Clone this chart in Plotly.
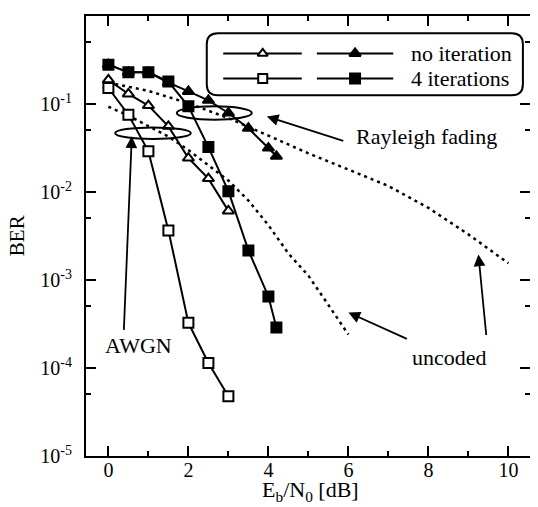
import plotly.graph_objects as go
import math

# ---- data ----
x_awgn = [0, 0.5, 1, 1.5, 2, 2.5, 3]
awgn_noiter = [0.188, 0.13, 0.096, 0.0557, 0.0243, 0.0142, 0.0061]
awgn_4iter = [0.152, 0.0756, 0.029, 0.00366, 3.26e-4, 1.14e-4, 4.78e-5]

x_ray = [0, 0.5, 1, 1.5, 2, 2.5, 3, 3.5, 4, 4.2]
ray_noiter = [0.28, 0.229, 0.229, 0.175, 0.139, 0.11, 0.079, 0.053, 0.0316, 0.0254]
ray_4iter = [0.28, 0.229, 0.229, 0.18, 0.094, 0.0324, 0.0102, 0.00217, 6.5e-4, 2.89e-4]

x_unc_awgn = [0, 0.5, 1, 1.5, 2, 2.5, 3, 3.5, 4, 4.5, 5, 5.5, 6]
unc_awgn = [0.093, 0.074, 0.056, 0.0427, 0.030, 0.020, 0.0135, 0.0080, 0.0042, 0.0020,
            0.00112, 5.2e-4, 2.4e-4]

x_unc_ray = [0, 1, 2, 3, 4, 5, 6, 7, 8, 9, 10]
unc_ray = [0.175, 0.141, 0.102, 0.069, 0.0437, 0.0275, 0.018, 0.0117, 0.0066, 0.0033, 0.00155]

y_tickvals = [1, 0.1, 0.01, 0.001, 1e-4, 1e-5]
y_ticktext = ["10<sup>0</sup>", "10<sup>-1</sup>", "10<sup>-2</sup>", "10<sup>-3</sup>",
              "10<sup>-4</sup>", "10<sup>-5</sup>"]
y_minor = [0.5, 0.05, 0.005, 5e-4, 5e-5]
x_tickvals = [0, 2, 4, 6, 8, 10]
x_minor = [1, 3, 5, 7, 9]

legend_labels = ["no iteration", "4 iterations"]

FONT = "Liberation Serif, Times New Roman, serif"
BLACK = "black"
TXT = 22
TICK = 20

fig = go.Figure()

def curve(x, y, symbol, hollow=False, dash="solid", width=2):
    mode = "lines" if symbol is None else "lines+markers"
    tr = go.Scatter(x=x, y=y, mode=mode, showlegend=False,
                    line=dict(color=BLACK, width=width, dash=dash),
                    hoverinfo="skip")
    if symbol is not None:
        tr.marker = dict(symbol=symbol, size=10, color="white" if hollow else BLACK,
                         line=dict(color=BLACK, width=2))
    return tr

fig.add_trace(curve(x_unc_awgn, unc_awgn, None, dash="3px,4px", width=2.5))
fig.add_trace(curve(x_unc_ray, unc_ray, None, dash="3px,4px", width=2.5))
fig.add_trace(curve(x_ray, ray_noiter, "triangle-up"))
fig.add_trace(curve(x_ray, ray_4iter, "square"))
fig.add_trace(curve(x_awgn, awgn_noiter, "triangle-up", hollow=True))
fig.add_trace(curve(x_awgn, awgn_4iter, "square", hollow=True))

# ---- legend drawn on an overlay axis ----
leg_rows = [0.915, 0.858]
leg_syms = ["triangle-up", "square"]
for row_y, sym, lab in zip(leg_rows, leg_syms, legend_labels):
    for (xa, xm, xb), hollow in (((0.309, 0.398, 0.486), True), ((0.520, 0.606, 0.692), False)):
        fig.add_trace(go.Scatter(x=[xa, xb], y=[row_y, row_y], xaxis="x2", yaxis="y2",
                                 mode="lines", line=dict(color=BLACK, width=2),
                                 showlegend=False, hoverinfo="skip"))
        fig.add_trace(go.Scatter(x=[xm], y=[row_y], xaxis="x2", yaxis="y2", mode="markers",
                                 marker=dict(symbol=sym, size=9 if hollow else 10,
                                             color="white" if hollow else BLACK,
                                             line=dict(color=BLACK, width=2)),
                                 showlegend=False, hoverinfo="skip"))

annotations = []
for row_y, lab in zip(leg_rows, legend_labels):
    annotations.append(dict(xref="paper", yref="paper", x=0.727, y=row_y, text=lab,
                            showarrow=False, xanchor="left", yanchor="middle",
                            font=dict(family=FONT, size=TXT, color=BLACK)))

# rounded legend box (paper coordinates)
bx0, bx1, by0, by1 = 0.272, 0.984, 0.820, 0.961
rx, ry = 0.025, 0.025
box_path = (f"M {bx0+rx},{by1} L {bx1-rx},{by1} Q {bx1},{by1} {bx1},{by1-ry} "
            f"L {bx1},{by0+ry} Q {bx1},{by0} {bx1-rx},{by0} L {bx0+rx},{by0} "
            f"Q {bx0},{by0} {bx0},{by0+ry} L {bx0},{by1-ry} Q {bx0},{by1} {bx0+rx},{by1} Z")

shapes = [
    dict(type="path", xref="paper", yref="paper", path=box_path,
         line=dict(color=BLACK, width=2), fillcolor="rgba(0,0,0,0)"),
    dict(type="circle", xref="x", yref="y", x0=1.71, x1=3.585, y0=0.0662, y1=0.094,
         line=dict(color=BLACK, width=2)),
    dict(type="circle", xref="x", yref="y", x0=0.17, x1=2.06, y0=0.040, y1=0.0542,
         line=dict(color=BLACK, width=2)),
]

def arrow(xv, yv, ax, ay):
    return dict(xref="x", yref="y", x=xv, y=math.log10(yv), ax=ax, ay=ay, text="",
                showarrow=True, arrowhead=2, arrowsize=1.3, arrowwidth=1.8,
                arrowcolor=BLACK)

annotations += [
    arrow(3.96, 0.0723, 78, 25),
    arrow(0.585, 0.0429, -8, 195),
    arrow(6.0, 4.27e-4, 60, 27),
    arrow(9.25, 1.95e-3, 8, 82),
]

def label(xv, yv, text):
    return dict(xref="x", yref="y", x=xv, y=math.log10(yv), text=text, showarrow=False,
                xanchor="center", yanchor="middle", font=dict(family=FONT, size=TXT, color=BLACK))

annotations += [
    label(7.94, 0.0427, "Rayleigh fading"),
    label(0.74, 1.82e-4, "AWGN"),
    label(8.52, 1.32e-4, "uncoded"),
]

# axis titles
annotations += [
    dict(xref="paper", yref="paper", x=0.505, y=-0.08, text="E<sub>b</sub>/N<sub>0</sub> [dB]",
         showarrow=False, xanchor="center", yanchor="middle",
         font=dict(family=FONT, size=TXT, color=BLACK)),
    dict(xref="paper", yref="paper", x=-0.155, y=0.5, text="BER", textangle=-90,
         showarrow=False, xanchor="center", yanchor="middle",
         font=dict(family=FONT, size=21, color=BLACK)),
]

axis_common = dict(showline=True, linewidth=2, linecolor=BLACK, mirror="allticks",
                   ticks="inside", ticklen=10, tickwidth=1.5, tickcolor=BLACK,
                   showgrid=False, zeroline=False, automargin=False,
                   tickfont=dict(family=FONT, size=TICK, color=BLACK))

# The page body adds an 8px offset, so the figure is sized to fit the window.
fig.update_layout(
    width=530, height=499,
    margin=dict(l=78, r=8, t=8, b=51),
    paper_bgcolor="white", plot_bgcolor="white",
    font=dict(family=FONT, color=BLACK),
    xaxis=dict(range=[-0.56, 10.54], tickvals=x_tickvals, ticklabelstandoff=-5,
               minor=dict(tickvals=x_minor, ticks="inside", ticklen=5, tickwidth=1.5,
                          tickcolor=BLACK),
               **axis_common),
    yaxis=dict(type="log", range=[-5, 0], tickvals=y_tickvals, ticktext=y_ticktext,
               ticklabelstandoff=8,
               minor=dict(tickvals=y_minor, ticks="inside", ticklen=5, tickwidth=1.5,
                          tickcolor=BLACK),
               **axis_common),
    xaxis2=dict(overlaying="x", range=[0, 1], visible=False),
    yaxis2=dict(overlaying="y", range=[0, 1], visible=False),
    shapes=shapes,
    annotations=annotations,
)

fig.write_html("out.html")
